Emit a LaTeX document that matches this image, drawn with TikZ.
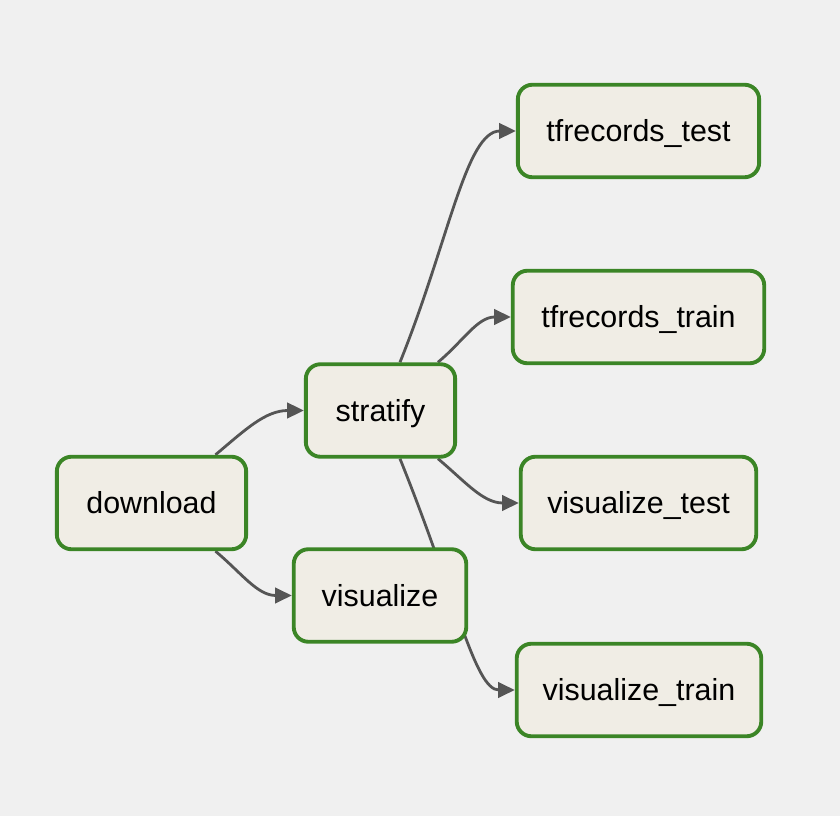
\documentclass[tikz,border=0pt]{standalone}
\usepackage{fontspec}
\setmainfont{Liberation Sans}
\usepackage{xcolor}
\usetikzlibrary{arrows.meta}
\definecolor{taskgreen}{HTML}{3B8526}
\definecolor{taskfill}{HTML}{F0EDE5}
\definecolor{edgegray}{HTML}{555555}
\definecolor{canvas}{HTML}{F0F0F0}
\pgfdeclarelayer{bg}
\pgfsetlayers{bg,main}

\begin{document}
\begin{tikzpicture}[x=0.75pt,y=0.75pt,
    task/.style={draw=taskgreen,fill=taskfill,line width=2.9pt,rounded corners=11pt,
        minimum height=69.4pt,inner sep=0pt,text height=17pt,text depth=1pt,
        font=\fontsize{22.8}{27}\selectfont},
    dep/.style={draw=edgegray,line width=2.1pt,-{Triangle[length=12.5pt,width=11.5pt]}}]
    \useasboundingbox (0,0) rectangle (840,-816);
    \node[task,minimum width=142pt] (download) at (151.5,-503) {download};
    \node[task,minimum width=112pt] (stratify) at (380.5,-410.5) {stratify};
    \node[task,minimum width=129.4pt] (visualize) at (380,-595.5) {visualize};
    \node[task,minimum width=181pt] (tftest) at (638.5,-131) {tfrecords\_test};
    \node[task,minimum width=188.6pt] (tftrain) at (638.5,-317) {tfrecords\_train};
    \node[task,minimum width=176.6pt] (vistest) at (638.5,-503) {visualize\_test};
    \node[task,minimum width=183.4pt] (vistrain) at (639,-690) {visualize\_train};
    \begin{pgfonlayer}{bg}
    \fill[canvas] (0,0) rectangle (840,-816);
    \draw[dep] (download.37) to[out=40,in=180] (stratify.west);
    \draw[dep] (download.-37) to[out=-40,in=180] (visualize.west);
    \draw[dep] (stratify.68) .. controls +(68:130) and +(-50,0) .. (tftest.west);
    \draw[dep] (stratify.40) to[out=40,in=180] (tftrain.west);
    \draw[dep] (stratify.-40) to[out=-40,in=180] (vistest.west);
    \draw[dep] (stratify.-68) .. controls +(-68:150) and +(-40,0) .. (vistrain.west);
    \end{pgfonlayer}
\end{tikzpicture}
\end{document}
